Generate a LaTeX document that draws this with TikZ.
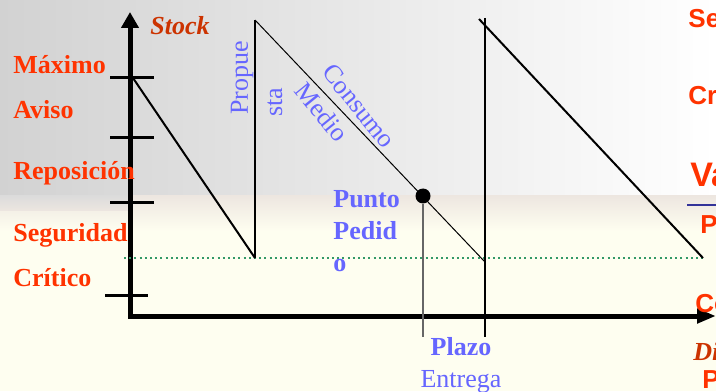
\documentclass[tikz,border=0pt]{standalone}
\usepackage{fontspec}
\setmainfont{Liberation Serif}
\setsansfont{Liberation Sans}
\usetikzlibrary{arrows.meta,positioning}

\definecolor{rojo}{HTML}{FF3300}
\definecolor{granate}{HTML}{CC3300}
\definecolor{azul}{HTML}{6666FF}
\definecolor{azulosc}{HTML}{333399}
\definecolor{verde}{HTML}{339966}
\definecolor{crema}{HTML}{FEFEF0}
\definecolor{gris}{HTML}{D2D2D2}
\definecolor{melocoton}{HTML}{EDE6E0}

\tikzset{
  nivel/.style={text=rojo, font=\bfseries\fontsize{13}{16}\selectfont, anchor=base west, inner sep=0pt},
  nota/.style={text=azul, font=\fontsize{13}{16}\selectfont, inner sep=0pt},
  corte/.style={text=rojo, font=\sffamily\bfseries\fontsize{13}{16}\selectfont, anchor=base west, inner sep=0pt},
  eje/.style={black, line width=2.5pt, {Triangle[length=8pt,width=8.5pt]}-{Triangle[length=9.5pt,width=7pt]}},
  marca/.style={black, line width=1.5pt},
  punto/.style={circle, fill=black, inner sep=0pt, minimum size=7.5pt},
}

\begin{document}
\begin{tikzpicture}[x=0.5pt, y=0.5pt]
    \useasboundingbox (0,0) rectangle (716,391);

    % fondo
    \fill [crema] (0,0) rectangle (716,391);
    \shade [top color=melocoton, bottom color=crema] (0,160) rectangle (716,196);
    \shade [top color=gris!80!white, bottom color=melocoton] (0,180) rectangle (130,196);
    \shade [left color=gris, right color=white] (0,196) rectangle (716,391);

    % ejes
    \coordinate (origen) at (130,75);
    \coordinate (ytope)  at (130,379);
    \coordinate (xtope)  at (716,75);
    \draw [eje] (ytope) |- (xtope);

    \foreach \y in {313,253,188}
        \draw [marca] (110,\y) -- (154,\y);
    \draw [marca] (105,96) -- (148,96);

    % niveles
    \node [nivel] (maximo)  at (13,317) {Máximo};
    \node [nivel] (aviso)   at (13,272) {Aviso};
    \node [nivel] (repos)   at (13,211) {Reposición};
    \node [nivel] (segur)   at (13,150) {Seguridad};
    \node [nivel] (critico) at (13,105) {Crítico};
    \node [nivel] [text=granate] [font=\bfseries\itshape\fontsize{13}{16}\selectfont] (stock) at (150,356) {Stock};

    % diente de sierra
    \coordinate (a0) at (133,313);
    \coordinate (a1) at (255,133);
    \coordinate (a2) at (255,371);
    \coordinate (a3) at (485,129);
    \coordinate (a4) at (485,373);
    \coordinate (b4) at (479,372);
    \coordinate (a5) at (703,133);
    \coordinate (segI) at (124,133);
    \coordinate (plazoA) at (423,54);
    \coordinate (plazoB) at (485,54);

    \draw [verde, line width=1pt, dash pattern=on 1pt off 1.6pt] (segI) to (a5);

    \draw [black, line width=1pt] (a0) to (a1);
    \draw [black, line width=0.7pt] (a1) to (a2);
    \draw [black, line width=0.5pt] (a2) to (a3);
    \draw [black, line width=0.6pt] (a4) to (plazoB);
    \draw [black, line width=1pt] (b4) to (a5);

    \node [punto] (pedido) at (423,195) {};
    \draw [black!60, line width=1pt] (pedido) to (plazoA);

    % textos azules
    \node [nota] [rotate=90]  (propue)  at (242,313) {Propue};
    \node [nota] [rotate=90]  (sta)     at (275,289) {sta};
    \node [nota] [rotate=-51] (consumo) at (359,285) {Consumo};
    \node [nota] [rotate=-51] (medio)   at (322,279) {Medio};
    \node [nota] [font=\bfseries\fontsize{13}{16}\selectfont] [align=left] [anchor=north west] (ptoped) at (333,201) {Punto\\Pedid\\o};
    \node [nota] [font=\bfseries\fontsize{13}{16}\selectfont] [anchor=base] (plazo) at (461,36) {Plazo};
    \node [nota] [anchor=base] (entrega) at (461,4) {Entrega};

    % textos cortados a la derecha
    \node [corte] (se)  at (688,363) {Se};
    \node [corte] (cr)  at (688,286) {Cr};
    \node [corte] [font=\sffamily\bfseries\fontsize{17}{20}\selectfont] (va) at (690,204) {Va};
    \coordinate (subI) at (687,186);
    \coordinate (subF) at (716,186);
    \draw [azulosc, line width=1.2pt] (subI) to (subF);
    \node [corte] (p1)  at (700,158) {P};
    \node [corte] (co)  at (695,79)  {Co};
    \node [corte] [text=granate] [font=\bfseries\itshape\fontsize{13}{16}\selectfont] (di) at (693,31) {Di};
    \node [corte] (p2)  at (702,3)   {P};

\end{tikzpicture}
\end{document}
